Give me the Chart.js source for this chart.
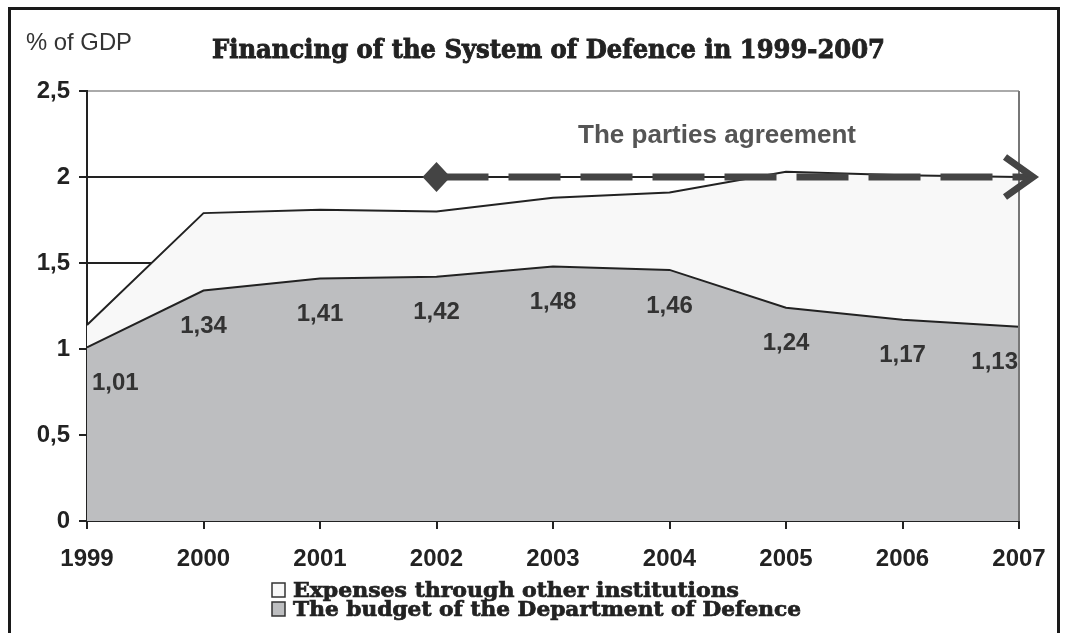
<!DOCTYPE html>
<html>
<head>
<meta charset="utf-8">
<script src="https://cdn.jsdelivr.net/npm/chart.js@4.4.0/dist/chart.umd.min.js"></script>
<style>
  html, body { margin: 0; padding: 0; background: #fff; }
  #frame { position: absolute; left: 8px; top: 7px; width: 1046px; height: 660px; border: 3px solid #1a1a1a; }
  #chart { position: absolute; left: 0; top: 0; }
</style>
</head>
<body>
<div id="frame"></div>
<canvas id="chart" width="1065" height="633"></canvas>
<script>
const years = ['1999', '2000', '2001', '2002', '2003', '2004', '2005', '2006', '2007'];
const budget = [1.01, 1.34, 1.41, 1.42, 1.48, 1.46, 1.24, 1.17, 1.13];
const otherInstitutions = [0.13, 0.45, 0.40, 0.38, 0.40, 0.45, 0.79, 0.84, 0.87];
const yTicks = [0, 0.5, 1, 1.5, 2, 2.5];
const agreementStart = '2002';
const agreementLevel = 2;

const SANS = '"Liberation Sans", Arial, sans-serif';
const SERIF = '"DejaVu Serif", serif';

function comma(v) {
    return String(v).replace('.', ',');
}

// draws text squeezed/stretched to a given width, optionally a bit heavier
function fitText(ctx, text, x, y, width, heavy) {
    const w = ctx.measureText(text).width;
    ctx.save();
    ctx.translate(x, y);
    ctx.scale(width / w, 1);
    ctx.textAlign = 'left';
    ctx.fillText(text, 0, 0);
    if (heavy) {
        ctx.strokeStyle = ctx.fillStyle;
        ctx.lineWidth = heavy;
        ctx.strokeText(text, 0, 0);
    }
    ctx.restore();
}

const decorations = {
    id: 'decorations',
    afterDatasetsDraw(chart) {
        const ctx = chart.ctx;
        const area = chart.chartArea;
        const xs = chart.scales.x;
        const ys = chart.scales.y;

        // right border of the plot
        ctx.save();
        ctx.strokeStyle = '#777';
        ctx.lineWidth = 2;
        ctx.beginPath();
        ctx.moveTo(area.right, area.top);
        ctx.lineTo(area.right, area.bottom);
        ctx.stroke();

        // budget values under the line
        const meta = chart.getDatasetMeta(0);
        ctx.fillStyle = '#333';
        ctx.font = 'bold 24px ' + SANS;
        ctx.textBaseline = 'middle';
        meta.data.forEach((pt, i) => {
            let x = pt.x;
            ctx.textAlign = 'center';
            if (i === 0) { ctx.textAlign = 'left'; x += 5; }
            if (i === meta.data.length - 1) { ctx.textAlign = 'right'; x -= 1; }
            ctx.fillText(comma(budget[i]), x, pt.y + 36);
        });

        // agreement arrow
        const x0 = xs.getPixelForValue(years.indexOf(agreementStart));
        const y0 = ys.getPixelForValue(agreementLevel);
        const tip = area.right + 17;
        ctx.strokeStyle = '#444';
        ctx.fillStyle = '#444';
        ctx.lineWidth = 7;
        ctx.setLineDash([52, 20]);
        ctx.beginPath();
        ctx.moveTo(x0, y0);
        ctx.lineTo(tip - 8, y0);
        ctx.stroke();
        ctx.setLineDash([]);
        ctx.lineCap = 'butt';
        ctx.lineJoin = 'miter';
        ctx.beginPath();
        ctx.moveTo(tip - 31, y0 - 20);
        ctx.lineTo(tip - 3, y0);
        ctx.lineTo(tip - 31, y0 + 20);
        ctx.stroke();
        ctx.beginPath();
        ctx.moveTo(x0, y0 - 15);
        ctx.lineTo(x0 + 14, y0);
        ctx.lineTo(x0, y0 + 15);
        ctx.lineTo(x0 - 14, y0);
        ctx.closePath();
        ctx.fill();

        ctx.fillStyle = '#555';
        ctx.font = 'bold 25px ' + SANS;
        ctx.textBaseline = 'alphabetic';
        fitText(ctx, 'The parties agreement', 578, 143, 278);
        ctx.restore();
    },
    afterDraw(chart) {
        const ctx = chart.ctx;
        ctx.save();
        ctx.textBaseline = 'alphabetic';

        ctx.fillStyle = '#333';
        ctx.font = '24px ' + SANS;
        fitText(ctx, '% of GDP', 26, 50, 106);

        ctx.fillStyle = '#222';
        ctx.font = 'bold 26px ' + SERIF;
        fitText(ctx, 'Financing of the System of Defence in 1999-2007', 212, 58, 673, 0.9);

        // legend
        const rows = [
            { text: 'Expenses through other institutions', fill: '#f8f8f8', y: 597, w: 446 },
            { text: 'The budget of the Department of Defence', fill: '#bdbec0', y: 616, w: 508 }
        ];
        ctx.font = 'bold 20px ' + SERIF;
        rows.forEach(r => {
            ctx.fillStyle = r.fill;
            ctx.fillRect(272, r.y - 14, 13, 14);
            ctx.strokeStyle = '#333';
            ctx.lineWidth = 1.5;
            ctx.strokeRect(272, r.y - 14, 13, 14);
            ctx.fillStyle = '#222';
            fitText(ctx, r.text, 293, r.y, r.w, 0.7);
        });
        ctx.restore();
    }
};

new Chart(document.getElementById('chart'), {
    type: 'line',
    data: {
        labels: years,
        datasets: [{
            label: 'The budget of the Department of Defence',
            data: budget,
            fill: 'origin',
            backgroundColor: '#bdbec0',
            borderColor: '#222',
            borderWidth: 2,
            pointRadius: 0,
            tension: 0
        }, {
            label: 'Expenses through other institutions',
            data: otherInstitutions,
            fill: '-1',
            backgroundColor: '#f8f8f8',
            borderColor: '#222',
            borderWidth: 2,
            pointRadius: 0,
            tension: 0
        }]
    },
    options: {
        responsive: false,
        devicePixelRatio: 1,
        animation: false,
        layout: { padding: { left: 0, top: 91, right: 46, bottom: 0 } },
        plugins: {
            legend: { display: false },
            tooltip: { enabled: false }
        },
        scales: {
            x: {
                afterFit(scale) { scale.height = 112; },
                grid: { drawOnChartArea: false, tickLength: 8, tickColor: '#222', lineWidth: 2 },
                border: { display: true, color: '#222', width: 2 },
                ticks: { color: '#222', font: { family: SANS, size: 24, weight: 'bold' }, padding: 16, maxRotation: 0 }
            },
            y: {
                stacked: true,
                min: 0,
                max: 2.5,
                afterFit(scale) { scale.width = 87; },
                afterBuildTicks(scale) { scale.ticks = yTicks.map(v => ({ value: v })); },
                grid: {
                    color: c => (c.tick && c.tick.value === 2.5) ? '#aaa' : '#222',
                    lineWidth: 2,
                    tickLength: 8,
                    tickColor: '#222'
                },
                border: { display: true, color: '#222', width: 2 },
                ticks: {
                    color: '#222',
                    padding: 9,
                    font: { family: SANS, size: 24, weight: 'bold' },
                    callback: v => comma(v)
                }
            }
        }
    },
    plugins: [decorations]
});
</script>
</body>
</html>
